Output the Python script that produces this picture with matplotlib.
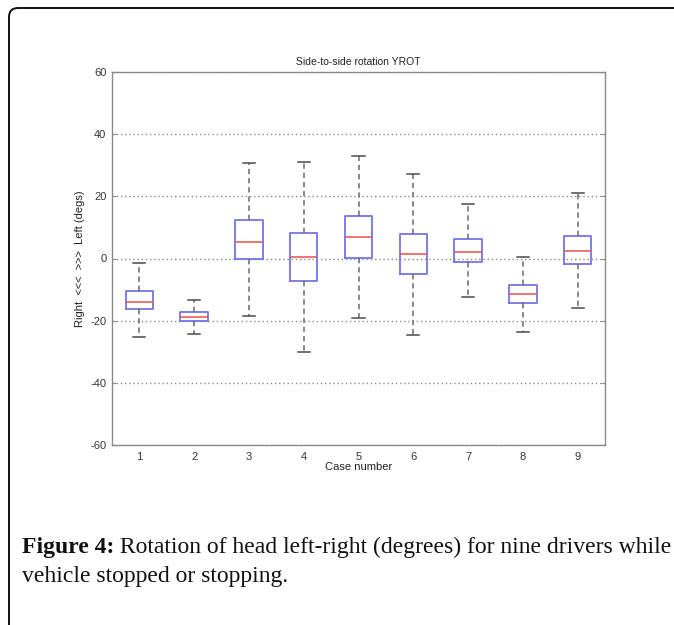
import matplotlib
matplotlib.use("Agg")
import matplotlib.pyplot as plt
from matplotlib.patches import FancyBboxPatch
from matplotlib.transforms import IdentityTransform

plt.rcParams["axes.unicode_minus"] = False

# ---- data ----
cases = [1, 2, 3, 4, 5, 6, 7, 8, 9]
whisker_low = [-25.2, -24.3, -18.4, -30.0, -19.2, -24.6, -12.3, -23.5, -15.8]
q1 = [-16.3, -20.1, 0.0, -7.1, 0.3, -5.0, -1.2, -14.4, -1.9]
median = [-13.9, -18.7, 5.2, 0.6, 6.8, 1.3, 2.2, -11.5, 2.4]
q3 = [-10.4, -17.3, 12.4, 8.1, 13.8, 7.8, 6.2, -8.5, 7.3]
whisker_high = [-1.3, -13.4, 30.6, 31.1, 33.1, 27.1, 17.4, 0.5, 21.0]
yticks = [-60, -40, -20, 0, 20, 40, 60]

title = "Side-to-side rotation YROT"
xlabel = "Case number"
ylabel = "Right  <<<  >>>  Left (degs)"
caption_bold = "Figure 4:"
caption_rest1 = " Rotation of head left-right (degrees) for nine drivers while"
caption_line2 = "vehicle stopped or stopping."

W, H = 674, 625
fig = plt.figure(figsize=(W / 100, H / 100), dpi=100)
fig.patch.set_facecolor("white")

ax = fig.add_axes([112 / W, 1 - 445 / H, (605 - 112) / W, (445 - 72) / H])

stats = []
for i in range(len(cases)):
    stats.append(dict(med=median[i], q1=q1[i], q3=q3[i],
                      whislo=whisker_low[i], whishi=whisker_high[i],
                      fliers=[], label=str(cases[i])))

ax.bxp(stats, positions=cases, widths=0.5, capwidths=0.22, showfliers=False,
       boxprops=dict(color="#7474e6", linewidth=1.3),
       medianprops=dict(color="#e8504a", linewidth=1.1),
       whiskerprops=dict(color="#6a6a6a", linewidth=1.1, linestyle=(0, (3.5, 2.5))),
       capprops=dict(color="#4a4a4a", linewidth=1.1))

ax.set_xlim(0.5, 9.5)
ax.set_ylim(-60, 60)
ax.set_yticks(yticks)
ax.set_xticks(cases)
ax.set_xticklabels([str(c) for c in cases])
ax.yaxis.grid(True, linestyle=(0, (1, 2)), color="#8a8a8a", linewidth=1.0)
ax.set_axisbelow(True)

for side in ["left", "bottom", "right", "top"]:
    ax.spines[side].set_color("#8a8a8a")
    ax.spines[side].set_linewidth(1.0)
ax.spines["top"].set_linestyle((0, (1, 1)))
ax.spines["right"].set_linestyle((0, (1, 1)))

ax.tick_params(axis="both", direction="in", length=3, color="#8a8a8a",
               labelsize=8, labelcolor="#333333", pad=4)
ax.tick_params(axis="y", right=True)
ax.tick_params(axis="x", length=0, pad=5)

fam = ["Liberation Sans", "DejaVu Sans"]
for lab in ax.get_xticklabels() + ax.get_yticklabels():
    lab.set_family(fam)

ax.set_title(title, fontsize=7.5, family=fam, color="#222222", pad=5)
ax.set_xlabel(xlabel, fontsize=8, family=fam, color="#222222", labelpad=0)
ax.set_ylabel(ylabel, fontsize=8, family=fam, color="#222222", labelpad=4)

# ---- frame (rounded top-left corner, cut off right/bottom) ----
frame = FancyBboxPatch((9, -60), 900, (H - 8) + 60, boxstyle="round,pad=0,rounding_size=9",
                       transform=IdentityTransform(), fill=False, edgecolor="#111111",
                       linewidth=1.4)
fig.patches.append(frame)

# ---- caption: fit font size so line 1 spans the same width ----
serif = ["Liberation Serif", "DejaVu Serif"]
renderer = fig.canvas.get_renderer()
target_w = 672 - 22
fs = 14.0
for _ in range(4):
    tb = fig.text(0, 0, caption_bold, fontsize=fs, family=serif, fontweight="bold")
    tr = fig.text(0, 0, caption_rest1, fontsize=fs, family=serif)
    total = tb.get_window_extent(renderer).width + tr.get_window_extent(renderer).width
    tb.remove()
    tr.remove()
    fs = fs * target_w / total

y1 = 1 - 553 / H
tb = fig.text(22 / W, y1, caption_bold, fontsize=fs, family=serif,
              fontweight="bold", va="baseline", ha="left", color="#111111")
bb = tb.get_window_extent(renderer)
fig.text(bb.x1 / W, y1, caption_rest1, fontsize=fs, family=serif,
         va="baseline", ha="left", color="#111111")
fig.text(22 / W, 1 - 582 / H, caption_line2, fontsize=fs, family=serif,
         va="baseline", ha="left", color="#111111")

fig.savefig("out.png", dpi=100)
